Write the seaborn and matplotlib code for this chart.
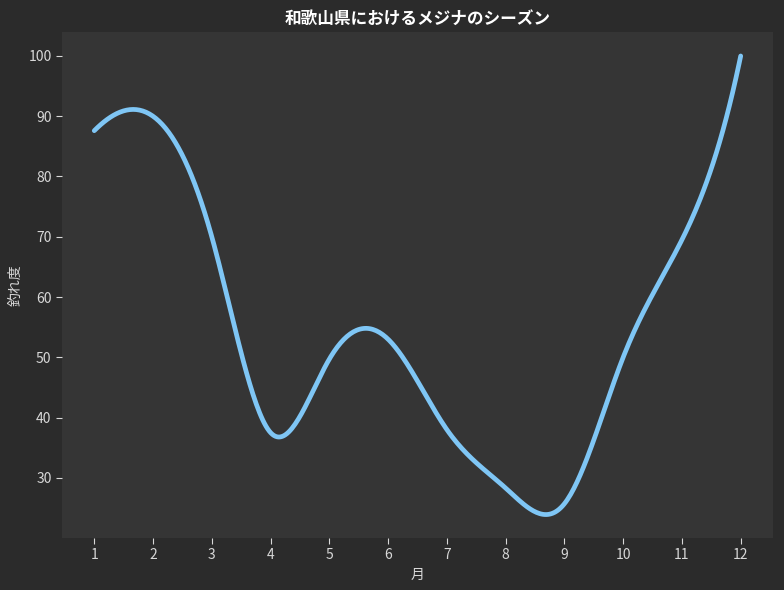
import numpy as np
import pandas as pd
import seaborn as sns
import matplotlib.pyplot as plt

months = [1, 2, 3, 4, 5, 6, 7, 8, 9, 10, 11, 12]
score = [87.6, 90, 70, 37.5, 49.7, 53, 38, 28.3, 25.7, 50, 69.5, 100]

sns.set_theme(style="dark")
plt.rcParams['font.family'] = ['Noto Sans CJK JP', 'DejaVu Sans']


# cubic spline (not-a-knot ends) for drawing the smooth line
def spline(x, y, n=400):
    x = np.asarray(x, float)
    y = np.asarray(y, float)
    k = len(x)
    h = np.diff(x)
    A = np.zeros((k, k))
    b = np.zeros(k)
    # third derivative continuous at the second and second-last knots
    A[0, 0], A[0, 1], A[0, 2] = h[1], -(h[0] + h[1]), h[0]
    A[-1, -3], A[-1, -2], A[-1, -1] = h[-1], -(h[-2] + h[-1]), h[-2]
    for i in range(1, k - 1):
        A[i, i - 1] = h[i - 1]
        A[i, i] = 2 * (h[i - 1] + h[i])
        A[i, i + 1] = h[i]
        b[i] = 6 * ((y[i + 1] - y[i]) / h[i] - (y[i] - y[i - 1]) / h[i - 1])
    M = np.linalg.solve(A, b)
    xs = np.linspace(x[0], x[-1], n)
    idx = np.clip(np.searchsorted(x, xs) - 1, 0, k - 2)
    hi = h[idx]
    a = x[idx + 1] - xs
    d = xs - x[idx]
    ys = (M[idx] * a ** 3 + M[idx + 1] * d ** 3) / (6 * hi) \
        + (y[idx] / hi - M[idx] * hi / 6) * a \
        + (y[idx + 1] / hi - M[idx + 1] * hi / 6) * d
    return xs, ys


xs, ys = spline(months, score)
df = pd.DataFrame({"月": xs, "釣れ度": ys})

bg = "#2b2b2b"
f, ax = plt.subplots(figsize=(7.84, 5.9), dpi=100)
f.patch.set_facecolor(bg)
ax.set_facecolor("#353535")

sns.lineplot(x="月", y="釣れ度", data=df, color="#7fc6f5", linewidth=3.4, ax=ax)

ax.set_xticks(months)
ax.set_xlim(0.45, 12.55)
ax.set_ylim(20, 104)
ax.set_yticks([30, 40, 50, 60, 70, 80, 90, 100])
ax.tick_params(colors="#d8d8d8", labelsize=10, length=4, width=0.8, left=True, bottom=True)
ax.set_xlabel("月", color="#d8d8d8", fontsize=10)
ax.set_ylabel("釣れ度", color="#d8d8d8", fontsize=10)
ax.set_title("和歌山県におけるメジナのシーズン", color="white", fontsize=12, fontweight="bold")
for s in ax.spines.values():
    s.set_visible(False)
ax.grid(False)

plt.subplots_adjust(left=0.079, right=0.986, top=0.946, bottom=0.088)
plt.savefig("out.png", dpi=100, facecolor=bg)
